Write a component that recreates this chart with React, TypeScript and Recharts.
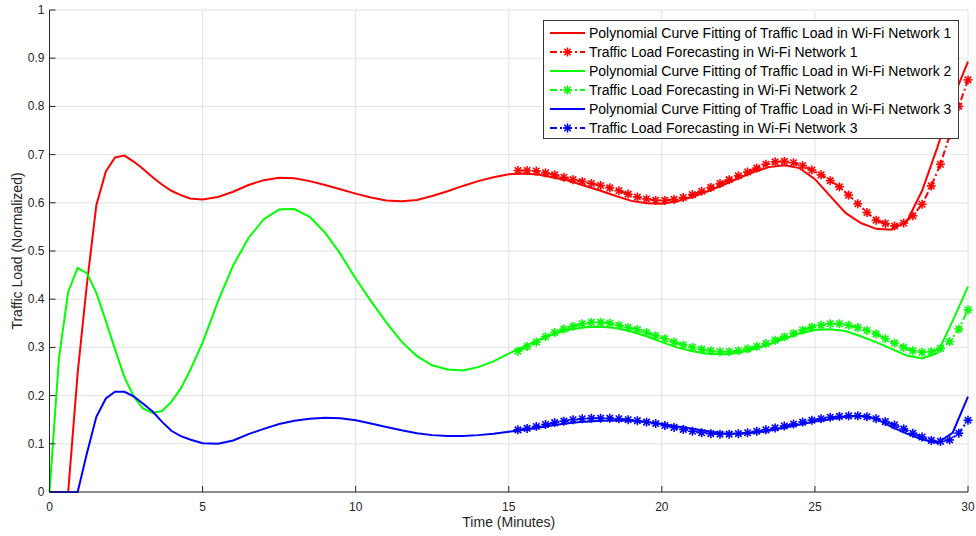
import React from "react";
import { LineChart, Line, XAxis, YAxis, CartesianGrid, Legend, Label } from "recharts";

// fitted curves: fine steps at the start, half-minute steps after
const fitTime = [
  0, 0.31, 0.61, 0.92, 1.22, 1.53, 1.84, 2.14, 2.45, 2.76, 3.06, 3.37, 3.67, 3.98, 4.29, 4.59,
  5, 5.5, 6, 6.5, 7, 7.5, 8, 8.5, 9, 9.5, 10, 10.5, 11, 11.5, 12, 12.5, 13, 13.5, 14, 14.5,
  15, 15.5, 16, 16.5, 17, 17.5, 18, 18.5, 19, 19.5, 20, 20.5, 21, 21.5, 22, 22.5, 23, 23.5, 24, 24.5,
  25, 25.5, 26, 26.5, 27, 27.5, 28, 28.5, 29, 29.5, 30,
];
const fitNet1 = [
  0, 0, 0, 0.247, 0.43, 0.595, 0.665, 0.694, 0.698, 0.685, 0.67, 0.653, 0.638, 0.625, 0.616, 0.609,
  0.607, 0.612, 0.623, 0.637, 0.647, 0.652, 0.651, 0.645, 0.637, 0.628, 0.619, 0.611, 0.605, 0.603, 0.606, 0.614, 0.624, 0.635, 0.645, 0.653,
  0.659, 0.661, 0.658, 0.652, 0.645, 0.635, 0.625, 0.614, 0.604, 0.599, 0.598, 0.603, 0.612, 0.624, 0.637, 0.651, 0.664, 0.674, 0.678, 0.672,
  0.649, 0.614, 0.579, 0.558, 0.546, 0.544, 0.561, 0.625, 0.715, 0.815, 0.893,
];
const fitNet2 = [
  0, 0.278, 0.415, 0.465, 0.454, 0.413, 0.355, 0.296, 0.238, 0.197, 0.173, 0.164, 0.168, 0.187, 0.215, 0.252,
  0.31, 0.395, 0.47, 0.527, 0.566, 0.586, 0.587, 0.571, 0.538, 0.494, 0.443, 0.396, 0.352, 0.312, 0.282, 0.263, 0.254, 0.252, 0.259, 0.271,
  0.287, 0.302, 0.316, 0.328, 0.337, 0.342, 0.343, 0.34, 0.333, 0.323, 0.311, 0.3, 0.292, 0.287, 0.286, 0.289, 0.296, 0.306, 0.318, 0.329,
  0.336, 0.3375, 0.334, 0.323, 0.311, 0.297, 0.283, 0.277, 0.288, 0.355, 0.426,
];
const fitNet3 = [
  0, 0, 0, 0, 0.08, 0.156, 0.194, 0.208, 0.208, 0.198, 0.183, 0.167, 0.146, 0.127, 0.116, 0.109,
  0.101, 0.1, 0.107, 0.12, 0.131, 0.141, 0.148, 0.152, 0.154, 0.153, 0.149, 0.142, 0.135, 0.128, 0.122, 0.118, 0.116, 0.116, 0.118, 0.121,
  0.125, 0.129, 0.134, 0.139, 0.143, 0.146, 0.148, 0.149, 0.148, 0.145, 0.141, 0.136, 0.131, 0.126, 0.122, 0.121, 0.123, 0.127, 0.133, 0.14,
  0.146, 0.151, 0.156, 0.158, 0.152, 0.135, 0.121, 0.109, 0.102, 0.123, 0.198,
];

// forecasts
const forecastTime = [
  15.3, 15.6, 15.9, 16.2, 16.5, 16.8, 17.1, 17.4, 17.7, 18.0, 18.3, 18.6, 18.9, 19.2, 19.5, 19.8, 20.1,
  20.4, 20.7, 21.0, 21.3, 21.6, 21.9, 22.2, 22.5, 22.8, 23.1, 23.4, 23.7, 24.0, 24.3, 24.6, 24.9, 25.2,
  25.5, 25.8, 26.1, 26.4, 26.7, 27.0, 27.3, 27.6, 27.9, 28.2, 28.5, 28.8, 29.1, 29.4, 29.7, 30.0,
];
const forecastNet1 = [
  0.667, 0.667, 0.666, 0.662, 0.658, 0.653, 0.648, 0.644, 0.64, 0.636, 0.631, 0.625, 0.618, 0.612, 0.608, 0.605, 0.605,
  0.607, 0.611, 0.617, 0.624, 0.632, 0.64, 0.648, 0.656, 0.664, 0.672, 0.68, 0.685, 0.686, 0.683, 0.677, 0.668, 0.658,
  0.646, 0.633, 0.616, 0.598, 0.58, 0.564, 0.557, 0.552, 0.558, 0.573, 0.597, 0.635, 0.68, 0.74, 0.8, 0.855,
];
const forecastNet2 = [
  0.292, 0.302, 0.311, 0.322, 0.331, 0.338, 0.344, 0.349, 0.352, 0.352, 0.35, 0.346, 0.341, 0.337, 0.331, 0.324, 0.318,
  0.311, 0.305, 0.3, 0.296, 0.293, 0.291, 0.291, 0.293, 0.297, 0.302, 0.308, 0.315, 0.322, 0.329, 0.336, 0.342, 0.346,
  0.349, 0.349, 0.346, 0.341, 0.335, 0.328, 0.318, 0.309, 0.3, 0.293, 0.29, 0.291, 0.298, 0.312, 0.338, 0.378,
];
const forecastNet3 = [
  0.129, 0.132, 0.136, 0.14, 0.144, 0.147, 0.15, 0.152, 0.153, 0.153, 0.153, 0.152, 0.15, 0.148, 0.145, 0.142, 0.138,
  0.134, 0.13, 0.126, 0.123, 0.121, 0.12, 0.12, 0.121, 0.123, 0.126, 0.129, 0.133, 0.137, 0.141, 0.145, 0.149, 0.152,
  0.155, 0.157, 0.158, 0.158, 0.156, 0.152, 0.146, 0.139, 0.131, 0.122, 0.114, 0.107, 0.105, 0.108, 0.122, 0.149,
];

const xTicks = [0, 5, 10, 15, 20, 25, 30];
const yTicks = [0, 0.1, 0.2, 0.3, 0.4, 0.5, 0.6, 0.7, 0.8, 0.9, 1];

const seriesNames = [
  "Polynomial Curve Fitting of Traffic Load in Wi-Fi Network 1",
  "Traffic Load Forecasting in Wi-Fi Network 1",
  "Polynomial Curve Fitting of Traffic Load in Wi-Fi Network 2",
  "Traffic Load Forecasting in Wi-Fi Network 2",
  "Polynomial Curve Fitting of Traffic Load in Wi-Fi Network 3",
  "Traffic Load Forecasting in Wi-Fi Network 3",
];
const colors = ["#ff0000", "#00ff00", "#0000ff"];

const toRows = (t: number[], v: number[]) => t.map((x, i) => ({ t: x, v: v[i] }));

const FONT = "'Liberation Sans', Arial, Helvetica, sans-serif";
const AX = "#262626";
const DASH = "7 3 2 3";

function Asterisk({ cx, cy, color }: any) {
  if (cx == null || cy == null) return null;
  const r = 4.5;
  const d = r * 0.72;
  return (
    <g stroke={color} strokeWidth={1.6}>
      <line x1={cx - r} y1={cy} x2={cx + r} y2={cy} />
      <line x1={cx} y1={cy - r} x2={cx} y2={cy + r} />
      <line x1={cx - d} y1={cy - d} x2={cx + d} y2={cy + d} />
      <line x1={cx - d} y1={cy + d} x2={cx + d} y2={cy - d} />
    </g>
  );
}

const BottomTick = ({ x, y, payload }: any) => (
  <g>
    <line x1={x} x2={x} y1={y} y2={y - 6} stroke={AX} />
    <text x={x} y={y + 19} textAnchor="middle" fontSize={12} fill={AX} fontFamily={FONT}>
      {payload.value}
    </text>
  </g>
);
const TopTick = ({ x, y }: any) => <line x1={x} x2={x} y1={y} y2={y + 6} stroke={AX} />;
const LeftTick = ({ x, y, payload }: any) => (
  <g>
    <line x1={x} x2={x + 6} y1={y} y2={y} stroke={AX} />
    <text x={x - 5} y={y + 4} textAnchor="end" fontSize={12} fill={AX} fontFamily={FONT}>
      {payload.value}
    </text>
  </g>
);
const RightTick = ({ x, y }: any) => <line x1={x} x2={x - 6} y1={y} y2={y} stroke={AX} />;

function LegendBox() {
  return (
    <div
      style={{
        width: 416,
        boxSizing: "border-box",
        border: "1px solid #3a3a3a",
        background: "#fff",
        padding: "2px 0 1px 5px",
        fontFamily: FONT,
        fontSize: 14,
        color: "#000",
      }}
    >
      {seriesNames.map((name, i) => {
        const c = colors[Math.floor(i / 2)];
        const fc = i % 2 === 1;
        return (
          <div key={name} style={{ display: "flex", alignItems: "center", height: 19, whiteSpace: "nowrap" }}>
            <svg width={40} height={14} style={{ flex: "none" }}>
              <line x1={1} x2={36} y1={7} y2={7} stroke={c} strokeWidth={2} strokeDasharray={fc ? DASH : undefined} />
              {fc && <Asterisk cx={18.5} cy={7} color={c} />}
            </svg>
            <span>{name}</span>
          </div>
        );
      })}
    </div>
  );
}

export default function App() {
  const fits = [fitNet1, fitNet2, fitNet3];
  const forecasts = [forecastNet1, forecastNet2, forecastNet3];
  return (
    <div style={{ position: "absolute", left: 0, top: 0, background: "#fff" }}>
      <LineChart width={976} height={536} margin={{ top: 10, right: 8, left: 0, bottom: 0 }}>
        <CartesianGrid xAxisId="b" yAxisId="l" stroke="#e2e2e2" />
        <XAxis
          xAxisId="b"
          dataKey="t"
          type="number"
          domain={[0, 30]}
          ticks={xTicks}
          interval={0}
          height={44}
          tickSize={0}
          tickMargin={0}
          tickLine={false}
          tick={BottomTick}
          axisLine={{ stroke: AX }}
        >
          <Label
            content={({ viewBox }: any) => (
              <text
                x={viewBox.x + viewBox.width / 2}
                y={viewBox.y + 35}
                textAnchor="middle"
                fontSize={14}
                fill={AX}
                fontFamily={FONT}
              >
                Time (Minutes)
              </text>
            )}
          />
        </XAxis>
        <XAxis
          xAxisId="t"
          orientation="top"
          type="number"
          domain={[0, 30]}
          ticks={xTicks}
          interval={0}
          height={0}
          tickSize={0}
          tickMargin={0}
          tickLine={false}
          tick={TopTick}
          axisLine={{ stroke: AX }}
        />
        <YAxis
          yAxisId="l"
          type="number"
          domain={[0, 1]}
          ticks={yTicks}
          interval={0}
          width={49.5}
          tickSize={0}
          tickMargin={0}
          tickLine={false}
          tick={LeftTick}
          axisLine={{ stroke: AX }}
        >
          <Label
            content={({ viewBox }: any) => {
              const cy = viewBox.y + viewBox.height / 2;
              return (
                <text
                  x={17}
                  y={cy}
                  dy="0.35em"
                  transform={`rotate(-90 17 ${cy})`}
                  textAnchor="middle"
                  fontSize={14}
                  fill={AX}
                  fontFamily={FONT}
                >
                  Traffic Load (Normalized)
                </text>
              );
            }}
          />
        </YAxis>
        <YAxis
          yAxisId="r"
          orientation="right"
          type="number"
          domain={[0, 1]}
          ticks={yTicks}
          interval={0}
          width={0}
          tickSize={0}
          tickMargin={0}
          tickLine={false}
          tick={RightTick}
          axisLine={{ stroke: AX }}
        />
        <Legend
          layout="vertical"
          align="center"
          verticalAlign="middle"
          wrapperStyle={{ top: 20, left: 543, width: 416, height: "auto" }}
          content={() => <LegendBox />}
        />
        {[0, 1, 2].map((k) => (
          <Line
            key={"fit" + k}
            xAxisId="b"
            yAxisId="l"
            data={toRows(fitTime, fits[k])}
            dataKey="v"
            name={seriesNames[k * 2]}
            type="linear"
            stroke={colors[k]}
            strokeWidth={2}
            dot={false}
            activeDot={false}
            isAnimationActive={false}
          />
        ))}
        {[0, 1, 2].map((k) => (
          <Line
            key={"fc" + k}
            xAxisId="b"
            yAxisId="l"
            data={toRows(forecastTime, forecasts[k])}
            dataKey="v"
            name={seriesNames[k * 2 + 1]}
            type="linear"
            stroke={colors[k]}
            strokeWidth={2}
            strokeDasharray={DASH}
            dot={(p: any) => <Asterisk key={"d" + k + "-" + p.index} cx={p.cx} cy={p.cy} color={colors[k]} />}
            activeDot={false}
            isAnimationActive={false}
          />
        ))}
      </LineChart>
    </div>
  );
}
